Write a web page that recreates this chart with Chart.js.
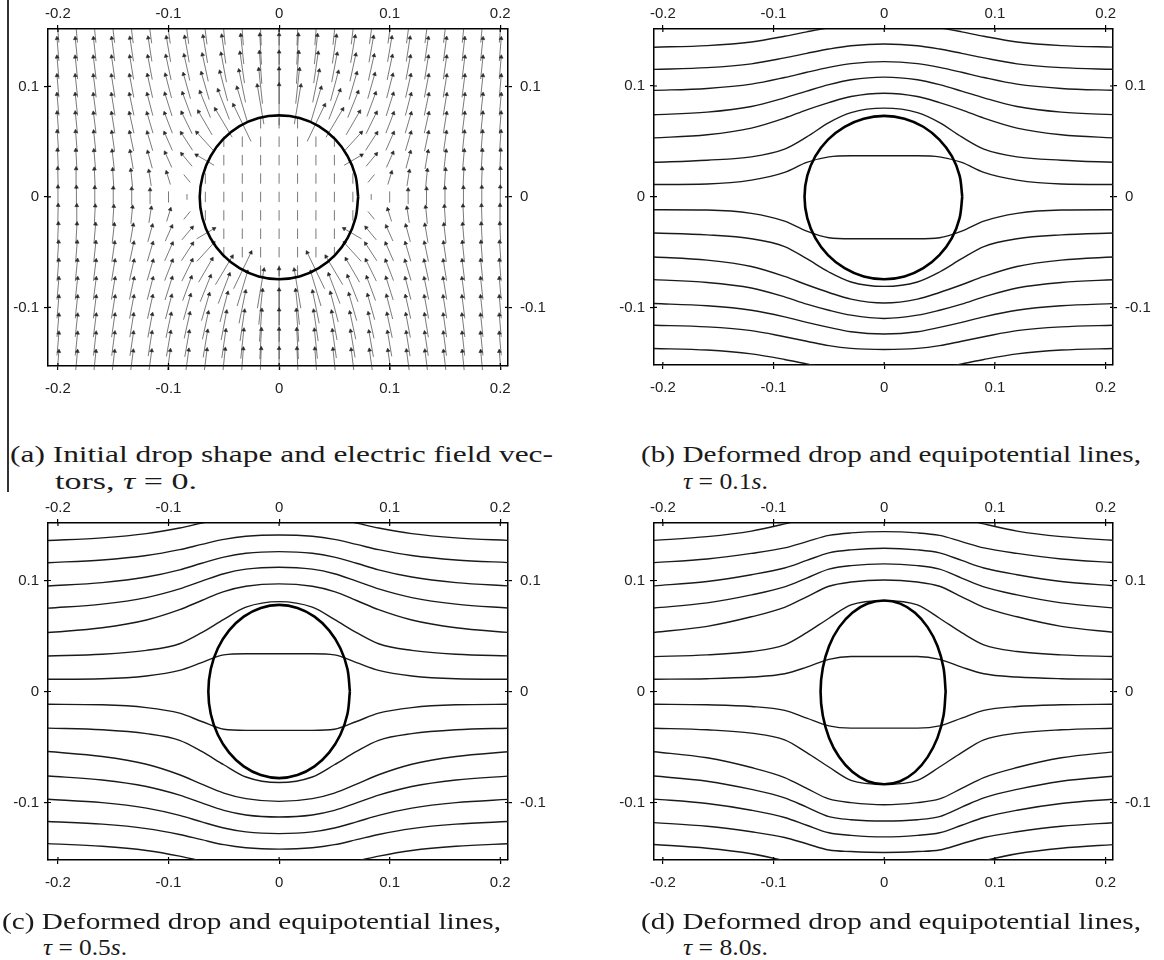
<!DOCTYPE html>
<html><head><meta charset="utf-8">
<script src="https://cdn.jsdelivr.net/npm/chart.js@4"></script>
<style>
body{margin:0;background:#fff;width:1164px;height:960px;overflow:hidden;position:relative;}
.pane{position:absolute;}
.cap{position:absolute;white-space:nowrap;font-family:'Liberation Serif','Times New Roman',serif;font-size:23px;line-height:23px;color:#1a1a1a;transform-origin:0 0;}
.vline{position:absolute;left:7px;top:0;width:1.5px;height:492px;background:#333;}
</style></head><body>
<div class="vline"></div>
<div class="pane" style="left:0;top:0"><canvas id="ca" width="580" height="440"></canvas></div>
<div class="pane" style="left:590px;top:0"><canvas id="cb" width="574" height="440"></canvas></div>
<div class="pane" style="left:0;top:494px"><canvas id="cc" width="580" height="440"></canvas></div>
<div class="pane" style="left:590px;top:494px"><canvas id="cd" width="574" height="440"></canvas></div>

<div class="cap" data-w="543" style="left:10px;top:443px">(a) Initial drop shape and electric field vec-</div>
<div class="cap" data-w="142" style="left:55px;top:470px">tors, <i>τ</i> = 0.</div>
<div class="cap" data-w="500" style="left:641px;top:443px">(b) Deformed drop and equipotential lines,</div>
<div class="cap" data-w="85" style="left:683px;top:470px"><i>τ</i> = 0.1<i>s</i>.</div>
<div class="cap" data-w="499" style="left:2px;top:910px">(c) Deformed drop and equipotential lines,</div>
<div class="cap" data-w="84" style="left:43px;top:936px"><i>τ</i> = 0.5<i>s</i>.</div>
<div class="cap" data-w="500" style="left:641px;top:910px">(d) Deformed drop and equipotential lines,</div>
<div class="cap" data-w="85" style="left:683px;top:936px"><i>τ</i> = 8.0<i>s</i>.</div>

<script>
// ---------- axis ticks ----------
const xTickVals = [-0.2, -0.1, 0, 0.1, 0.2];
const xTickLabels = ['-0.2', '-0.1', '0', '0.1', '0.2'];
const yTickVals = [-0.1, 0, 0.1];
const yTickLabels = ['-0.1', '0', '0.1'];

// ---------- panel (a): field-vector grid (upper-right quadrant) ----------
const gridX = [0, 0.0167, 0.0333, 0.05, 0.0667, 0.0833, 0.1, 0.1167, 0.1333, 0.15, 0.1667, 0.1833, 0.2];
const gridY = [0, 0.0167, 0.0333, 0.05, 0.0667, 0.0833, 0.1, 0.1167, 0.1333, 0.15];
// horizontal component (outward positive), rows = gridY, cols = gridX
const fieldDX = [
  [0,0,0,0,0,0,0,0,0,0,0,0,0],
  [0,0,0,0,0,0.28,0.16,0.10,0.07,0.05,0.04,0.03,0.02],
  [0,0,0,0,0.75,0.44,0.28,0.19,0.13,0.09,0.07,0.05,0.04],
  [0,0,0,0,0.72,0.48,0.33,0.23,0.17,0.12,0.09,0.07,0.06],
  [0,0,0.75,0.72,0.58,0.44,0.33,0.25,0.19,0.14,0.11,0.09,0.07],
  [0,0.28,0.44,0.48,0.44,0.37,0.30,0.24,0.19,0.15,0.12,0.10,0.08],
  [0,0.16,0.28,0.33,0.33,0.30,0.26,0.22,0.18,0.15,0.12,0.10,0.08],
  [0,0.10,0.19,0.23,0.25,0.24,0.22,0.19,0.16,0.14,0.12,0.10,0.08],
  [0,0.07,0.13,0.17,0.19,0.19,0.18,0.16,0.15,0.13,0.11,0.10,0.08],
  [0,0.05,0.09,0.12,0.14,0.15,0.15,0.14,0.13,0.12,0.10,0.09,0.08]
];
// vertical component
const fieldDY = [
  [0.45,0.45,0.45,0.45,0.45,0.25,0.48,0.62,0.71,0.77,0.81,0.85,0.87],
  [0.45,0.45,0.45,0.45,0.45,0.34,0.52,0.64,0.72,0.78,0.82,0.85,0.87],
  [0.45,0.45,0.45,0.45,0.44,0.53,0.63,0.70,0.76,0.80,0.83,0.86,0.88],
  [0.45,0.45,0.45,0.45,0.79,0.74,0.75,0.78,0.81,0.83,0.86,0.88,0.89],
  [0.45,0.45,1.56,1.21,1.00,0.90,0.86,0.85,0.86,0.87,0.88,0.90,0.91],
  [1.75,1.66,1.47,1.26,1.10,1.00,0.95,0.92,0.91,0.91,0.91,0.92,0.92],
  [1.52,1.48,1.37,1.25,1.14,1.06,1.00,0.97,0.95,0.94,0.94,0.94,0.94],
  [1.38,1.36,1.30,1.22,1.15,1.08,1.03,1.00,0.98,0.97,0.96,0.95,0.95],
  [1.29,1.28,1.24,1.19,1.14,1.09,1.05,1.02,1.00,0.99,0.98,0.97,0.97],
  [1.23,1.22,1.20,1.17,1.13,1.09,1.06,1.04,1.02,1.00,0.99,0.98,0.98]
];

// ---------- drop outlines ----------
const dropAX = [0.0715,0.0691,0.0619,0.0506,0.0358,0.0185,0,-0.0185,-0.0358,-0.0506,-0.0619,-0.0691,-0.0718,-0.0693,-0.0621,-0.0507,-0.0358,-0.0185,0,0.0185,0.0358,0.0506,0.0619,0.0691,0.0715];
const dropAY = [0,0.0192,0.037,0.0523,0.0641,0.0715,0.0738,0.0715,0.0641,0.0523,0.037,0.0192,0,-0.0193,-0.0373,-0.0527,-0.0645,-0.072,-0.0745,-0.072,-0.0645,-0.0527,-0.0373,-0.0193,0];
const dropBX = [0.0705,0.0681,0.0611,0.0498,0.0353,0.0183,0,-0.0185,-0.0358,-0.0508,-0.0622,-0.0695,-0.072,-0.0695,-0.0622,-0.0508,-0.0358,-0.0185,0,0.0183,0.0353,0.0498,0.0611,0.0681,0.0705];
const dropBY = [0,0.019,0.0366,0.0516,0.0632,0.0705,0.073,0.0705,0.0632,0.0516,0.0366,0.019,0,-0.0193,-0.0373,-0.0527,-0.0645,-0.072,-0.0745,-0.072,-0.0645,-0.0527,-0.0373,-0.0193,0];
const dropCX = [0.064,0.0618,0.0554,0.0452,0.032,0.0166,0,-0.0166,-0.032,-0.0452,-0.0554,-0.0618,-0.064,-0.0618,-0.0554,-0.0452,-0.032,-0.0166,0,0.0166,0.032,0.0452,0.0554,0.0618,0.064];
const dropCY = [0,0.0202,0.039,0.0551,0.0675,0.0753,0.078,0.0753,0.0675,0.0551,0.039,0.0202,0,-0.0202,-0.039,-0.0551,-0.0675,-0.0753,-0.078,-0.0753,-0.0675,-0.0551,-0.039,-0.0202,0];
const dropDX = [0.0555,0.0536,0.0481,0.0392,0.0278,0.0144,0,-0.0149,-0.0288,-0.0407,-0.0498,-0.0555,-0.0575,-0.0555,-0.0498,-0.0407,-0.0288,-0.0149,0,0.0144,0.0278,0.0392,0.0481,0.0536,0.0555];
const dropDY = [0,0.0212,0.041,0.058,0.071,0.0792,0.082,0.0792,0.071,0.058,0.041,0.0212,0,-0.0217,-0.0418,-0.0591,-0.0724,-0.0808,-0.0836,-0.0808,-0.0724,-0.0591,-0.0418,-0.0217,0];

// ---------- equipotential lines (y at lineX) ----------
const lineX = [-0.21,-0.16,-0.12,-0.09,-0.07,-0.05,-0.03,0,0.03,0.05,0.07,0.09,0.12,0.16,0.21];
const linesB = [
  [0.011,0.0115,0.015,0.022,0.031,0.036,0.037,0.037,0.037,0.036,0.031,0.022,0.015,0.0115,0.011],
  [0.031,0.033,0.036,0.043,0.054,0.067,0.076,0.080,0.076,0.067,0.054,0.043,0.036,0.033,0.031],
  [0.053,0.056,0.062,0.071,0.0785,0.085,0.0905,0.0935,0.0905,0.085,0.0785,0.071,0.062,0.056,0.053],
  [0.074,0.0764,0.0815,0.0893,0.0954,0.1012,0.1056,0.108,0.1056,0.1012,0.0954,0.0893,0.0815,0.0764,0.074],
  [0.096,0.0978,0.1017,0.1077,0.1124,0.1168,0.1202,0.122,0.1202,0.1168,0.1124,0.1077,0.1017,0.0978,0.096],
  [0.115,0.1166,0.120,0.1254,0.1295,0.1334,0.1364,0.138,0.1364,0.1334,0.1295,0.1254,0.120,0.1166,0.115],
  [0.135,0.1365,0.1398,0.1449,0.1489,0.1526,0.1555,0.157,0.1555,0.1526,0.1489,0.1449,0.1398,0.1365,0.135],
  [-0.0117,-0.012,-0.015,-0.022,-0.031,-0.037,-0.038,-0.038,-0.038,-0.037,-0.031,-0.022,-0.015,-0.012,-0.0117],
  [-0.0327,-0.0345,-0.038,-0.045,-0.056,-0.068,-0.077,-0.081,-0.077,-0.068,-0.056,-0.045,-0.038,-0.0345,-0.0327],
  [-0.0543,-0.0573,-0.063,-0.072,-0.0795,-0.0865,-0.0925,-0.096,-0.0925,-0.0865,-0.0795,-0.072,-0.063,-0.0573,-0.0543],
  [-0.0748,-0.0775,-0.0825,-0.0905,-0.097,-0.1025,-0.107,-0.110,-0.107,-0.1025,-0.097,-0.0905,-0.0825,-0.0775,-0.0748],
  [-0.0964,-0.0985,-0.1025,-0.1085,-0.1135,-0.118,-0.122,-0.124,-0.122,-0.118,-0.1135,-0.1085,-0.1025,-0.0985,-0.0964],
  [-0.116,-0.1176,-0.121,-0.1265,-0.1305,-0.1345,-0.137,-0.138,-0.137,-0.1345,-0.1305,-0.1265,-0.121,-0.1176,-0.116],
  [-0.137,-0.1385,-0.142,-0.147,-0.151,-0.1545,-0.1575,-0.159,-0.1575,-0.1545,-0.151,-0.147,-0.142,-0.1385,-0.137]
];
const linesC = [
  [0.011,0.0115,0.014,0.019,0.026,0.033,0.034,0.034,0.034,0.033,0.026,0.019,0.014,0.0115,0.011],
  [0.032,0.0335,0.037,0.043,0.053,0.065,0.076,0.081,0.076,0.065,0.053,0.043,0.037,0.0335,0.032],
  [0.053,0.0574,0.0644,0.0737,0.082,0.090,0.0948,0.097,0.0948,0.090,0.082,0.0737,0.0644,0.0574,0.053],
  [0.075,0.0787,0.0846,0.0924,0.0994,0.1061,0.1102,0.112,0.1102,0.1061,0.0994,0.0924,0.0846,0.0787,0.075],
  [0.095,0.0981,0.1031,0.1096,0.1155,0.121,0.1245,0.126,0.1245,0.121,0.1155,0.1096,0.1031,0.0981,0.095],
  [0.116,0.1185,0.1225,0.1278,0.1325,0.137,0.1398,0.141,0.1398,0.137,0.1325,0.1278,0.1225,0.1185,0.116],
  [0.136,0.1384,0.1422,0.1473,0.1518,0.156,0.1588,0.160,0.1588,0.156,0.1518,0.1473,0.1422,0.1384,0.136],
  [-0.0115,-0.012,-0.0145,-0.0195,-0.027,-0.034,-0.035,-0.035,-0.035,-0.034,-0.027,-0.0195,-0.0145,-0.012,-0.0115],
  [-0.033,-0.0345,-0.038,-0.044,-0.054,-0.066,-0.077,-0.082,-0.077,-0.066,-0.054,-0.044,-0.038,-0.0345,-0.033],
  [-0.054,-0.0585,-0.0655,-0.075,-0.0835,-0.0915,-0.0965,-0.099,-0.0965,-0.0915,-0.0835,-0.075,-0.0655,-0.0585,-0.054],
  [-0.076,-0.0797,-0.0856,-0.0934,-0.1004,-0.1071,-0.1112,-0.113,-0.1112,-0.1071,-0.1004,-0.0934,-0.0856,-0.0797,-0.076],
  [-0.097,-0.1001,-0.1051,-0.1116,-0.1175,-0.123,-0.1265,-0.128,-0.1265,-0.123,-0.1175,-0.1116,-0.1051,-0.1001,-0.097],
  [-0.117,-0.1195,-0.1235,-0.1288,-0.1335,-0.138,-0.1408,-0.142,-0.1408,-0.138,-0.1335,-0.1288,-0.1235,-0.1195,-0.117],
  [-0.137,-0.1394,-0.1432,-0.1483,-0.1528,-0.157,-0.1598,-0.161,-0.1598,-0.157,-0.1528,-0.1483,-0.1432,-0.1394,-0.137]
];
const linesD = [
  [0.011,0.0115,0.013,0.016,0.022,0.029,0.0315,0.0315,0.0315,0.029,0.022,0.016,0.013,0.0115,0.011],
  [0.0314,0.033,0.036,0.042,0.053,0.066,0.078,0.0818,0.078,0.066,0.053,0.042,0.036,0.033,0.0314],
  [0.053,0.0587,0.0673,0.0758,0.0853,0.0948,0.0986,0.1005,0.0986,0.0948,0.0853,0.0758,0.0673,0.0587,0.053],
  [0.075,0.0798,0.087,0.0942,0.1022,0.1102,0.1134,0.115,0.1134,0.1102,0.1022,0.0942,0.087,0.0798,0.075],
  [0.095,0.0991,0.1052,0.1113,0.1181,0.1249,0.1276,0.129,0.1276,0.1249,0.1181,0.1113,0.1052,0.0991,0.095],
  [0.116,0.1194,0.1244,0.1294,0.135,0.1406,0.1429,0.144,0.1429,0.1406,0.135,0.1294,0.1244,0.1194,0.116],
  [0.136,0.1395,0.1445,0.151,0.156,0.160,0.162,0.163,0.162,0.160,0.156,0.151,0.1445,0.1395,0.136],
  [-0.0115,-0.012,-0.0135,-0.017,-0.024,-0.031,-0.033,-0.033,-0.033,-0.031,-0.024,-0.017,-0.0135,-0.012,-0.0115],
  [-0.033,-0.0345,-0.0375,-0.0435,-0.055,-0.068,-0.080,-0.0836,-0.080,-0.068,-0.055,-0.0435,-0.0375,-0.0345,-0.033],
  [-0.054,-0.0597,-0.0685,-0.0775,-0.0873,-0.0968,-0.1001,-0.102,-0.1001,-0.0968,-0.0873,-0.0775,-0.0685,-0.0597,-0.054],
  [-0.076,-0.0808,-0.0882,-0.0958,-0.1042,-0.1127,-0.1155,-0.1167,-0.1155,-0.1127,-0.1042,-0.0958,-0.0882,-0.0808,-0.076],
  [-0.0968,-0.1009,-0.107,-0.1135,-0.1205,-0.1273,-0.1296,-0.131,-0.1296,-0.1273,-0.1205,-0.1135,-0.107,-0.1009,-0.0968],
  [-0.118,-0.1214,-0.1264,-0.1315,-0.1372,-0.1428,-0.1442,-0.145,-0.1442,-0.1428,-0.1372,-0.1315,-0.1264,-0.1214,-0.118],
  [-0.1377,-0.1412,-0.1462,-0.1525,-0.1575,-0.1615,-0.1635,-0.1645,-0.1635,-0.1615,-0.1575,-0.1525,-0.1462,-0.1412,-0.1377]
];

// ---------- build helpers ----------
const FONT = "'Liberation Sans', Arial, sans-serif";
const ARROW_UNIT = 0.021;

function xAxis(pos, min, max, size, pad) {
  return {
    type: 'linear', position: pos, min, max,
    afterBuildTicks: s => { s.ticks = xTickVals.map(v => ({value: v})); },
    afterFit: s => { s.height = size; },
    ticks: {autoSkip: false, maxRotation: 0, padding: pad, color: '#222',
      font: {family: FONT, size: 15}, callback: (v, i) => xTickLabels[i]},
    grid: {drawOnChartArea: false, drawTicks: true, tickLength: 4, color: '#000', lineWidth: 1.2},
    border: {display: true, color: '#000', width: 1.5}
  };
}
function yAxis(pos, min, max, size, pad) {
  return {
    type: 'linear', position: pos, min, max,
    afterBuildTicks: s => { s.ticks = yTickVals.map(v => ({value: v})); },
    afterFit: s => { s.width = size; },
    ticks: {autoSkip: false, padding: pad, color: '#222',
      font: {family: FONT, size: 15}, callback: (v, i) => yTickLabels[i]},
    grid: {drawOnChartArea: false, drawTicks: true, tickLength: 4, color: '#000', lineWidth: 1.2},
    border: {display: true, color: '#000', width: 1.5}
  };
}
const innerTicks = {
  id: 'innerTicks',
  afterDraw(chart) {
    const ctx = chart.ctx, a = chart.chartArea, sx = chart.scales.x, sy = chart.scales.y;
    ctx.save(); ctx.strokeStyle = '#000'; ctx.lineWidth = 1.2; ctx.beginPath();
    xTickVals.forEach(v => { const p = sx.getPixelForValue(v);
      ctx.moveTo(p, a.bottom); ctx.lineTo(p, a.bottom - 3); ctx.moveTo(p, a.top); ctx.lineTo(p, a.top + 3); });
    yTickVals.forEach(v => { const p = sy.getPixelForValue(v);
      ctx.moveTo(a.left, p); ctx.lineTo(a.left + 3, p); ctx.moveTo(a.right, p); ctx.lineTo(a.right - 3, p); });
    ctx.stroke(); ctx.restore();
  }
};
function makeChart(id, r, datasets) {
  new Chart(document.getElementById(id), {
    type: 'line',
    data: {datasets},
    options: {
      responsive: false, animation: false, events: [],
      layout: {padding: 0, autoPadding: false},
      plugins: {legend: {display: false}, tooltip: {enabled: false}},
      elements: {point: {radius: 0}},
      scales: {
        x: xAxis('bottom', r.xmin, r.xmax, r.hb, 10),
        xt: xAxis('top', r.xmin, r.xmax, r.ht, 2),
        y: yAxis('left', r.ymin, r.ymax, r.wl, 5),
        yr: yAxis('right', r.ymin, r.ymax, r.wr, 8)
      }
    },
    plugins: [innerTicks]
  });
}
function dropSet(xs, ys) {
  return {data: xs.map((x, i) => ({x, y: ys[i]})), borderColor: '#000', borderWidth: 2.6,
    tension: 0.35, pointRadius: 0, clip: 0, order: 0};
}
function lineSets(rows) {
  return rows.map(ys => ({data: lineX.map((x, i) => ({x, y: ys[i]})), borderColor: '#1a1a1a',
    borderWidth: 1.4, pointRadius: 0, cubicInterpolationMode: 'monotone', clip: 0, order: 1}));
}

// arrows for panel (a): quadrant table mirrored to the four quadrants
const arrowData = [], headR = [], headRot = [];
for (let jj = -9; jj <= 9; jj++) {
  for (let kk = -12; kk <= 12; kk++) {
    const j = Math.abs(jj), k = Math.abs(kk);
    const sgn = (kk < 0 ? -1 : 1) * (jj < 0 ? -1 : 1);
    const dx = fieldDX[j][k] * sgn, dy = fieldDY[j][k];
    const x0 = (kk < 0 ? -1 : 1) * gridX[k], y0 = (jj < 0 ? -1 : 1) * gridY[j];
    const hx = dx * ARROW_UNIT / 2, hy = dy * ARROW_UNIT / 2;
    arrowData.push({x: x0 - hx, y: y0 - hy}); headR.push(0); headRot.push(0);
    arrowData.push({x: x0 + hx, y: y0 + hy});
    headR.push(Math.hypot(dx, dy) >= 0.5 ? 2.2 : 0);
    headRot.push(Math.atan2(dx, dy) * 180 / Math.PI);
    arrowData.push({x: x0, y: null}); headR.push(0); headRot.push(0);
  }
}
const arrowSet = {
  data: arrowData, borderColor: 'rgba(40,40,40,0.62)', borderWidth: 1, spanGaps: false, tension: 0,
  pointStyle: 'triangle', pointRadius: c => headR[c.dataIndex], pointRotation: c => headRot[c.dataIndex],
  pointBackgroundColor: '#2a2a2a', pointBorderColor: '#2a2a2a', pointBorderWidth: 0.6,
  clip: {left: 0, top: 0, right: 0, bottom: 4}, order: 2
};

makeChart('ca', {xmin: -0.209, xmax: 0.207, ymin: -0.153, ymax: 0.152, wl: 48, wr: 72, ht: 29, hb: 74},
  [arrowSet, dropSet(dropAX, dropAY)]);
makeChart('cb', {xmin: -0.208, xmax: 0.2067, ymin: -0.152, ymax: 0.1515, wl: 64, wr: 51, ht: 29, hb: 75},
  [...lineSets(linesB), dropSet(dropBX, dropBY)]);
makeChart('cc', {xmin: -0.209, xmax: 0.207, ymin: -0.1518, ymax: 0.1518, wl: 48, wr: 72, ht: 29, hb: 74},
  [...lineSets(linesC), dropSet(dropCX, dropCY)]);
makeChart('cd', {xmin: -0.208, xmax: 0.2067, ymin: -0.1518, ymax: 0.1518, wl: 64, wr: 51, ht: 29, hb: 74},
  [...lineSets(linesD), dropSet(dropDX, dropDY)]);

// stretch caption lines to the reference widths
document.querySelectorAll('.cap').forEach(el => {
  const w = el.getBoundingClientRect().width;
  el.style.transform = 'scaleX(' + (+el.dataset.w / w) + ')';
});
</script>
</body></html>
